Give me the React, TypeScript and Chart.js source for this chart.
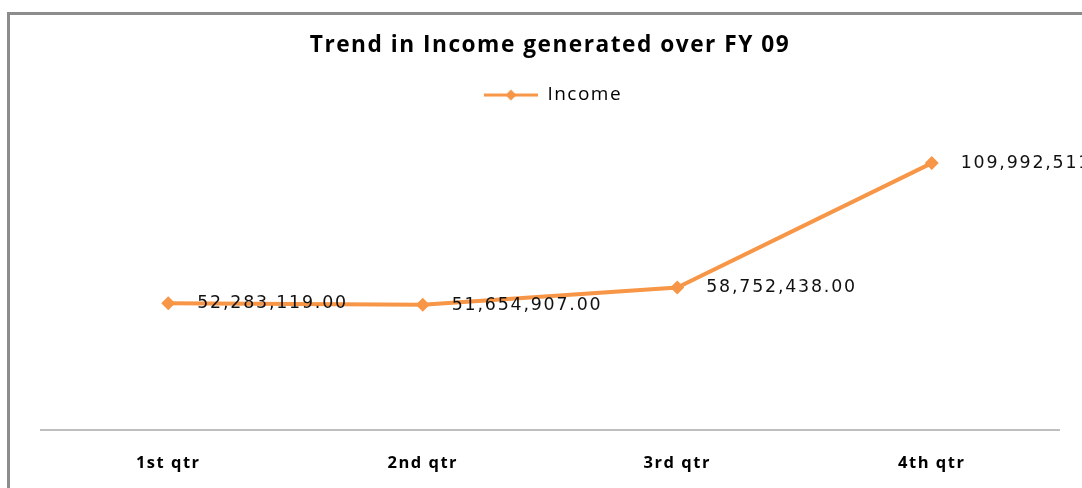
import React, { useEffect, useRef } from "react";
import { Chart, registerables } from "chart.js";

Chart.register(...registerables);

const chartTitle = "Trend in Income generated over FY 09";
const seriesName = "Income";
const categories = ["1st qtr", "2nd qtr", "3rd qtr", "4th qtr"];
const incomeValues = [52283119, 51654907, 58752438, 109992511];
const yMin = 0;
const yMax = 130000000;

const ORANGE = "#F79646";
const SPACING = "1.5px";

function formatValue(v: number): string {
  return v.toLocaleString("en-US", { minimumFractionDigits: 2, maximumFractionDigits: 2 });
}

function makeLegendIcon(): HTMLCanvasElement {
  const c = document.createElement("canvas");
  c.width = 60;
  c.height = 14;
  const g = c.getContext("2d")!;
  g.strokeStyle = ORANGE;
  g.lineWidth = 3;
  g.beginPath();
  g.moveTo(6, 7);
  g.lineTo(60, 7);
  g.stroke();
  g.fillStyle = ORANGE;
  g.beginPath();
  g.moveTo(33, 1.5);
  g.lineTo(38.5, 7);
  g.lineTo(33, 12.5);
  g.lineTo(27.5, 7);
  g.closePath();
  g.fill();
  return c;
}

const spacingPlugin = {
  id: "letterSpacing",
  beforeUpdate(chart: any) {
    (chart.ctx as any).letterSpacing = SPACING;
  },
  beforeLayout(chart: any) {
    (chart.ctx as any).letterSpacing = SPACING;
  },
  beforeDraw(chart: any) {
    (chart.ctx as any).letterSpacing = SPACING;
  },
};

const dataLabelPlugin = {
  id: "dataLabels",
  afterDatasetsDraw(chart: any) {
    const ctx = chart.ctx as CanvasRenderingContext2D;
    const meta = chart.getDatasetMeta(0);
    const values = chart.data.datasets[0].data as number[];
    ctx.save();
    (ctx as any).letterSpacing = "1.8px";
    ctx.font = "17.4px 'DejaVu Sans'";
    ctx.fillStyle = "#111";
    ctx.textAlign = "left";
    ctx.textBaseline = "middle";
    meta.data.forEach((pt: any, i: number) => {
      ctx.fillText(formatValue(values[i]), pt.x + 29, pt.y + 0.5);
    });
    ctx.restore();
  },
};

export default function App() {
  const canvasRef = useRef<HTMLCanvasElement | null>(null);

  useEffect(() => {
    if (!canvasRef.current) return;
    const icon = makeLegendIcon();
    const chart = new Chart(canvasRef.current, {
      type: "line",
      data: {
        labels: categories,
        datasets: [
          {
            label: seriesName,
            data: incomeValues,
            borderColor: ORANGE,
            backgroundColor: ORANGE,
            borderWidth: 4,
            tension: 0,
            fill: false,
            pointStyle: "rectRot",
            pointRadius: 7,
            pointBorderWidth: 0,
            pointBackgroundColor: ORANGE,
            pointBorderColor: ORANGE,
          },
        ],
      },
      options: {
        responsive: false,
        animation: false,
        devicePixelRatio: 1,
        layout: { padding: { left: 41, right: 23, top: 0, bottom: -8 } },
        plugins: {
          title: {
            display: true,
            text: chartTitle,
            color: "#000",
            font: { family: "'Open Sans'", size: 22.7, weight: "bold" },
            padding: { top: 32.4, bottom: 0 },
          },
          legend: {
            display: true,
            position: "top",
            labels: {
              usePointStyle: true,
              pointStyle: icon as any,
              pointStyleWidth: 60,
              color: "#000",
              font: { family: "'Open Sans'", size: 19 },
              padding: 25.9,
            },
          },
          tooltip: { enabled: false },
        },
        scales: {
          x: {
            offset: true,
            grid: { display: true, drawOnChartArea: false, drawTicks: false },
            border: { display: true, color: "#bfbfbf", width: 2 },
            ticks: {
              color: "#000",
              padding: 23.1,
              maxRotation: 0,
              autoSkip: false,
              font: { family: "'Open Sans'", size: 16.5, weight: "bold" },
            },
          },
          y: {
            display: false,
            min: yMin,
            max: yMax,
          },
        },
      },
      plugins: [spacingPlugin, dataLabelPlugin],
    });
    return () => chart.destroy();
  }, []);

  return (
    <div
      style={{
        position: "fixed",
        left: 0,
        top: 0,
        width: 1082,
        height: 488,
        background: "#fff",
        overflow: "hidden",
      }}
    >
      <div
        style={{
          position: "absolute",
          left: 7,
          top: 12,
          width: 1200,
          height: 600,
          borderTop: "3px solid #8c8c8c",
          borderLeft: "3px solid #8c8c8c",
          boxSizing: "border-box",
        }}
      />
      <canvas
        ref={canvasRef}
        width={1082}
        height={488}
        style={{ position: "absolute", left: 0, top: 0, width: 1082, height: 488 }}
      />
    </div>
  );
}
